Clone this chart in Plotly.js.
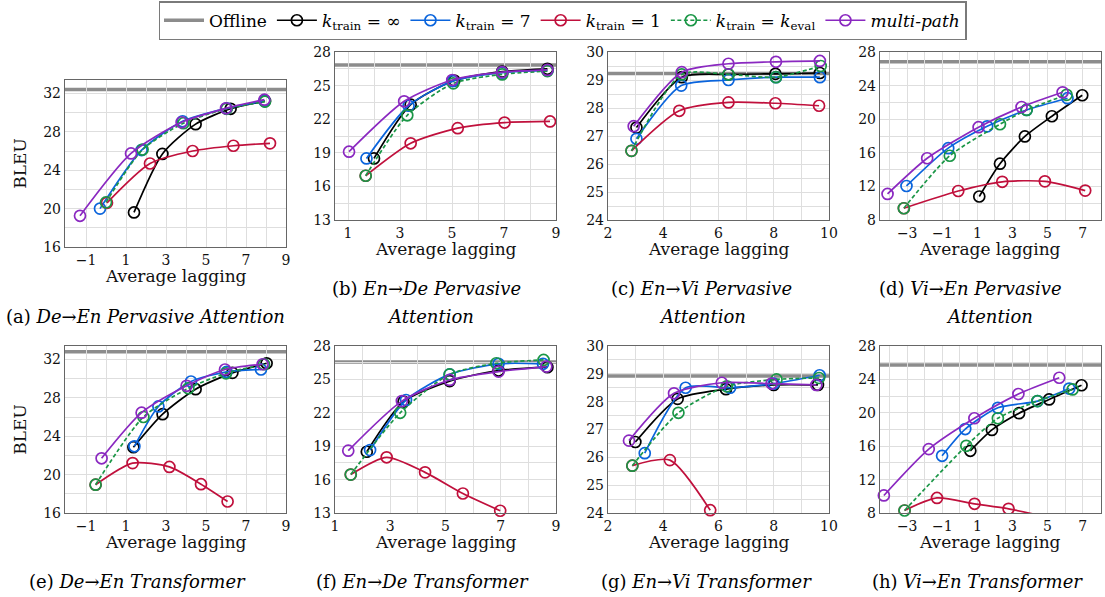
<!DOCTYPE html>
<html><head><meta charset="utf-8">
<script src="https://cdn.plot.ly/plotly-3.0.1.min.js"></script>
<style>
html,body{margin:0;padding:0;background:#fff}
#chart{width:1105px;height:597px}
</style>
</head><body><div id="chart"></div>
<script>
// ---------- data ----------
const seriesKeys = ['inf','k7','k1','keval','mp'];
const seriesNames = ['<i>k</i><sub>train</sub> = ∞','<i>k</i><sub>train</sub> = 7','<i>k</i><sub>train</sub> = 1','<i>k</i><sub>train</sub> = <i>k</i><sub>eval</sub>','<i>multi-path</i>'];
const offlineName = 'Offline';
const panelIds = ['a','b','c','d','e','f','g','h'];
const offline = [32.4, 26.85, 29.23, 26.85, 32.8, 26.57, 28.92, 25.73];
const captionsLine1 = ['(a) <i>De→En Pervasive Attention</i>','(b) <i>En→De Pervasive</i>','(c) <i>En→Vi Pervasive</i>','(d) <i>Vi→En Pervasive</i>',
  '(e) <i>De→En Transformer</i>','(f) <i>En→De Transformer</i>','(g) <i>En→Vi Transformer</i>','(h) <i>Vi→En Transformer</i>'];
const captionsLine2 = ['', '<i>Attention</i>', '<i>Attention</i>', '<i>Attention</i>', '', '', '', ''];
const xTitle = 'Average lagging';
const yTitle = 'BLEU';

// (a) De->En Pervasive Attention
const a_inf_x = [1.4, 2.82, 4.48, 6.23, 7.95],   a_inf_y = [19.6, 25.7, 28.8, 30.4, 31.2];
const a_k7_x = [-0.3, 1.78, 3.83, 6.03, 7.92],   a_k7_y = [20.0, 26.1, 29.1, 30.45, 31.2];
const a_k1_x = [0.05, 2.2, 4.33, 6.37, 8.2],     a_k1_y = [20.6, 24.7, 26.0, 26.55, 26.8];
const a_keval_x = [0.0, 1.83, 3.87, 6.03, 7.95], a_keval_y = [20.65, 26.15, 28.9, 30.4, 31.15];
const a_mp_x = [-1.3, 1.25, 3.78, 6.0, 7.92],    a_mp_y = [19.25, 25.75, 29.0, 30.45, 31.35];
// (b) En->De Pervasive Attention
const b_inf_x = [2.0, 3.41, 5.09, 6.93, 8.67],   b_inf_y = [18.5, 23.3, 25.45, 26.25, 26.5];
const b_k7_x = [1.71, 3.33, 5.03, 6.93, 8.67],   b_k7_y = [18.5, 23.2, 25.4, 26.15, 26.35];
const b_k1_x = [1.68, 3.41, 5.22, 7.02, 8.77],   b_k1_y = [16.95, 19.85, 21.2, 21.7, 21.8];
const b_keval_x = [1.68, 3.28, 5.05, 6.93, 8.67], b_keval_y = [16.95, 22.35, 25.2, 26.0, 26.3];
const b_mp_x = [1.04, 3.16, 5.01, 6.93, 8.67],   b_mp_y = [19.1, 23.6, 25.5, 26.2, 26.4];
// (c) En->Vi Pervasive Attention
const c_inf_x = [3.03, 4.67, 6.36, 8.06, 9.67],  c_inf_y = [27.3, 29.1, 29.2, 29.22, 29.25];
const c_k7_x = [3.03, 4.65, 6.36, 8.08, 9.67],   c_k7_y = [26.9, 28.8, 29.0, 29.1, 29.1];
const c_k1_x = [2.85, 4.58, 6.36, 8.06, 9.64],   c_k1_y = [26.47, 27.9, 28.2, 28.17, 28.08];
const c_keval_x = [2.85, 4.67, 6.36, 8.08, 9.7], c_keval_y = [26.47, 29.2, 29.2, 29.1, 29.5];
const c_mp_x = [2.93, 4.67, 6.36, 8.08, 9.67],   c_mp_y = [27.35, 29.28, 29.58, 29.65, 29.68];
// (d) Vi->En Pervasive Attention
const d_inf_x = [1.11, 2.29, 3.71, 5.25, 6.98],  d_inf_y = [10.8, 14.7, 17.95, 20.35, 22.85];
const d_k7_x = [-3.04, -0.66, 1.56, 3.81, 6.14], d_k7_y = [12.05, 16.55, 19.15, 21.1, 22.5];
const d_k1_x = [-3.19, -0.09, 2.42, 4.85, 7.15], d_k1_y = [9.4, 11.45, 12.55, 12.6, 11.5];
const d_keval_x = [-3.19, -0.57, 2.29, 3.81, 6.09], d_keval_y = [9.4, 15.65, 19.4, 21.1, 22.9];
const d_mp_x = [-4.12, -1.86, 1.07, 3.52, 5.86], d_mp_y = [11.1, 15.35, 19.05, 21.45, 23.2];
// (e) De->En Transformer
const e_inf_x = [1.37, 2.83, 4.48, 6.32, 8.03],  e_inf_y = [22.85, 26.3, 28.9, 30.6, 31.6];
const e_k7_x = [1.42, 2.62, 4.25, 6.03, 7.75],   e_k7_y = [22.95, 27.1, 29.7, 30.7, 30.95];
const e_k1_x = [-0.52, 1.33, 3.17, 4.75, 6.08],  e_k1_y = [18.95, 21.2, 20.8, 19.0, 17.2];
const e_keval_x = [-0.52, 1.87, 4.12, 6.0, 7.9], e_keval_y = [18.95, 26.0, 29.0, 30.55, 31.5];
const e_mp_x = [-0.22, 1.78, 4.03, 5.95, 7.83],  e_mp_y = [21.7, 26.45, 29.25, 30.95, 31.5];
// (f) En->De Transformer
const f_inf_x = [2.15, 3.48, 5.15, 6.92, 8.69],  f_inf_y = [18.5, 23.0, 24.85, 25.8, 26.1];
const f_k7_x = [2.27, 3.57, 5.15, 6.92, 8.53],   f_k7_y = [18.65, 23.15, 25.45, 26.4, 26.4];
const f_k1_x = [1.57, 2.87, 4.26, 5.63, 6.98],   f_k1_y = [16.45, 18.0, 16.65, 14.75, 13.2];
const f_keval_x = [1.57, 3.36, 5.15, 6.84, 8.55], f_keval_y = [16.45, 22.0, 25.45, 26.45, 26.75];
const f_mp_x = [1.48, 3.42, 5.15, 6.92, 8.65],   f_mp_y = [18.6, 23.05, 24.95, 25.7, 26.15];
// (g) En->Vi Transformer
const g_inf_x = [2.99, 4.52, 6.27, 8.0, 9.6],    g_inf_y = [26.55, 28.1, 28.45, 28.6, 28.6];
const g_k7_x = [3.33, 4.81, 6.42, 8.0, 9.66],    g_k7_y = [26.15, 28.5, 28.5, 28.65, 28.95];
const g_k1_x = [2.88, 4.24, 5.7],                g_k1_y = [25.7, 25.9, 24.1];
const g_keval_x = [2.88, 4.55, 6.3, 8.1, 9.64],  g_keval_y = [25.7, 27.6, 28.55, 28.8, 28.85];
const g_mp_x = [2.76, 4.39, 6.12, 7.92, 9.54],   g_mp_y = [26.6, 28.3, 28.68, 28.65, 28.6];
// (h) Vi->En Transformer
const h_inf_x = [0.6, 1.83, 3.38, 5.09, 6.94],   h_inf_y = [15.45, 17.95, 19.95, 21.6, 23.3];
const h_k7_x = [-1.01, 0.31, 2.17, 4.44, 6.24],  h_k7_y = [14.85, 18.05, 20.6, 21.4, 22.9];
const h_k1_x = [-3.15, -1.3, 0.84, 2.78, 5.0],   h_k1_y = [8.3, 9.8, 9.1, 8.5, 7.5];
const h_keval_x = [-3.15, 0.37, 2.17, 4.42, 6.43], h_keval_y = [8.3, 16.05, 19.35, 21.4, 22.8];
const h_mp_x = [-4.33, -1.77, 0.83, 3.34, 5.67], h_mp_y = [10.1, 15.65, 19.35, 22.25, 24.2];

// ---------- table for the library ----------
const table = {
  a:{inf:[a_inf_x,a_inf_y],k7:[a_k7_x,a_k7_y],k1:[a_k1_x,a_k1_y],keval:[a_keval_x,a_keval_y],mp:[a_mp_x,a_mp_y]},
  b:{inf:[b_inf_x,b_inf_y],k7:[b_k7_x,b_k7_y],k1:[b_k1_x,b_k1_y],keval:[b_keval_x,b_keval_y],mp:[b_mp_x,b_mp_y]},
  c:{inf:[c_inf_x,c_inf_y],k7:[c_k7_x,c_k7_y],k1:[c_k1_x,c_k1_y],keval:[c_keval_x,c_keval_y],mp:[c_mp_x,c_mp_y]},
  d:{inf:[d_inf_x,d_inf_y],k7:[d_k7_x,d_k7_y],k1:[d_k1_x,d_k1_y],keval:[d_keval_x,d_keval_y],mp:[d_mp_x,d_mp_y]},
  e:{inf:[e_inf_x,e_inf_y],k7:[e_k7_x,e_k7_y],k1:[e_k1_x,e_k1_y],keval:[e_keval_x,e_keval_y],mp:[e_mp_x,e_mp_y]},
  f:{inf:[f_inf_x,f_inf_y],k7:[f_k7_x,f_k7_y],k1:[f_k1_x,f_k1_y],keval:[f_keval_x,f_keval_y],mp:[f_mp_x,f_mp_y]},
  g:{inf:[g_inf_x,g_inf_y],k7:[g_k7_x,g_k7_y],k1:[g_k1_x,g_k1_y],keval:[g_keval_x,g_keval_y],mp:[g_mp_x,g_mp_y]},
  h:{inf:[h_inf_x,h_inf_y],k7:[h_k7_x,h_k7_y],k1:[h_k1_x,h_k1_y],keval:[h_keval_x,h_keval_y],mp:[h_mp_x,h_mp_y]}
};

// ---------- styles & layout geometry ----------
const W = 1105, H = 597;
const SERIF = 'DejaVu Serif';
const colors = {inf:'#000000', k7:'#0a64dc', k1:'#c0103c', keval:'#1a9646', mp:'#8a28c0'};
const dashes = {inf:'solid', k7:'solid', k1:'solid', keval:'4px,2.5px', mp:'solid'};
const boxes = {a:[65,286,80,247], b:[335,556,52,220], c:[608,829,52,220], d:[880,1101,52,220],
               e:[65,286,346,513], f:[335,556,346,513], g:[608,829,346,513], h:[880,1101,346,513]};
const xr = {a:[-2.05,9], b:[0.5,9], c:[2,10], d:[-4.55,8.05], e:[-2.05,9], f:[1,9], g:[2,10], h:[-4.55,8.05]};
const yr = {a:[16,33.4], b:[13,28], c:[24,30], d:[8,28], e:[16,33.4], f:[13,28], g:[24,30], h:[8,28]};
const xt = {a:[-1,2,1], b:[1,2,1], c:[2,2,1], d:[-3,2,1], e:[-1,2,1], f:[1,2,1], g:[2,2,1], h:[-3,2,1]};
const yt = {a:[16,4,2], b:[13,3,1.5], c:[24,1,0.5], d:[8,4,2], e:[16,4,2], f:[13,3,1.5], g:[24,1,0.5], h:[8,4,2]};
const captionX1 = [145, 426, 701, 970, 137, 422, 706, 977];
const captionX2 = [0, 430, 702, 989, 0, 0, 0, 0];
const captionY1 = [316, 288, 288, 288, 581, 581, 581, 581];
const captionY2 = 316;
const xTitleY = [276, 249, 249, 249, 542, 542, 542, 542];

const traces = [];
traces.push({x:[null], y:[null], type:'scatter', mode:'lines', name:offlineName,
  line:{color:'#8c8c8c', width:3.5}, showlegend:true, xaxis:'x', yaxis:'y', hoverinfo:'skip'});

const layout = {
  width:W, height:H, margin:{l:0,r:0,t:0,b:0}, paper_bgcolor:'#fff', plot_bgcolor:'#fff',
  font:{family:SERIF, size:14, color:'#111'},
  showlegend:true,
  legend:{orientation:'h', x:0.5095, xanchor:'center', y:0.998, yanchor:'top',
    bordercolor:'#7a7a7a', borderwidth:1.5, font:{family:SERIF, size:17, color:'#000'},
    itemwidth:40, tracegroupgap:0},
  shapes:[], annotations:[]
};

panelIds.forEach((p, i) => {
  const n = i === 0 ? '' : String(i + 1);
  const xa = 'x' + n, ya = 'y' + n;
  const bx = boxes[p];
  layout['xaxis' + n] = {
    domain:[bx[0]/W, bx[1]/W], range:xr[p], anchor:ya,
    tickmode:'linear', tick0:xt[p][0], dtick:xt[p][1],
    showgrid:true, gridcolor:'#dedede', gridwidth:1,
    minor:{tickmode:'linear', tick0:xt[p][0], dtick:xt[p][2], showgrid:true, gridcolor:'#dedede', gridwidth:1},
    showline:true, mirror:true, linecolor:'#666', linewidth:1.2, zeroline:false, ticks:'',
    tickfont:{family:SERIF, size:14, color:'#111'}
  };
  const yax = {
    domain:[1 - bx[3]/H, 1 - bx[2]/H], range:yr[p], anchor:xa,
    tickmode:'linear', tick0:yt[p][0], dtick:yt[p][1],
    showgrid:true, gridcolor:'#dedede', gridwidth:1,
    minor:{tickmode:'linear', tick0:yt[p][0], dtick:yt[p][2], showgrid:true, gridcolor:'#dedede', gridwidth:1},
    showline:true, mirror:true, linecolor:'#666', linewidth:1.2, zeroline:false, ticks:'',
    tickfont:{family:SERIF, size:14, color:'#111'}
  };
  if (p === 'a' || p === 'e') yax.title = {text:yTitle, font:{family:SERIF, size:17, color:'#111'}, standoff:12};
  layout['yaxis' + n] = yax;
  layout.shapes.push({type:'line', xref:xa + ' domain', yref:ya, x0:0, x1:1, y0:offline[i], y1:offline[i],
    line:{color:'#8c8c8c', width:3.5}, layer:'below'});
  seriesKeys.forEach((s, j) => {
    const d = table[p][s];
    traces.push({
      x:d[0], y:d[1], type:'scatter', mode:'lines+markers', name:seriesNames[j],
      xaxis:xa, yaxis:ya, showlegend:i === 0, legendgroup:s,
      line:{color:colors[s], width:1.7, dash:dashes[s], shape:'spline', smoothing:0.7},
      marker:{symbol:'circle-open', size:11, color:colors[s], line:{width:1.7, color:colors[s]}},
      cliponaxis:(p === 'h' && s === 'k1'),
      hoverinfo:'skip'
    });
  });
  layout.annotations.push({xref:xa + ' domain', yref:'paper', x:0.5, y:1 - xTitleY[i]/H,
    xanchor:'center', yanchor:'middle', showarrow:false, text:xTitle,
    font:{family:SERIF, size:17, color:'#111'}});
  layout.annotations.push({xref:'paper', yref:'paper', x:captionX1[i]/W, y:1 - captionY1[i]/H,
    xanchor:'center', yanchor:'middle', showarrow:false, text:captionsLine1[i],
    font:{family:SERIF, size:18, color:'#000'}});
  if (captionsLine2[i]) {
    layout.annotations.push({xref:'paper', yref:'paper', x:captionX2[i]/W, y:1 - captionY2/H,
      xanchor:'center', yanchor:'middle', showarrow:false, text:captionsLine2[i],
      font:{family:SERIF, size:18, color:'#000'}});
  }
});

Plotly.newPlot('chart', traces, layout, {staticPlot:true, displayModeBar:false});
</script>
</body></html>
